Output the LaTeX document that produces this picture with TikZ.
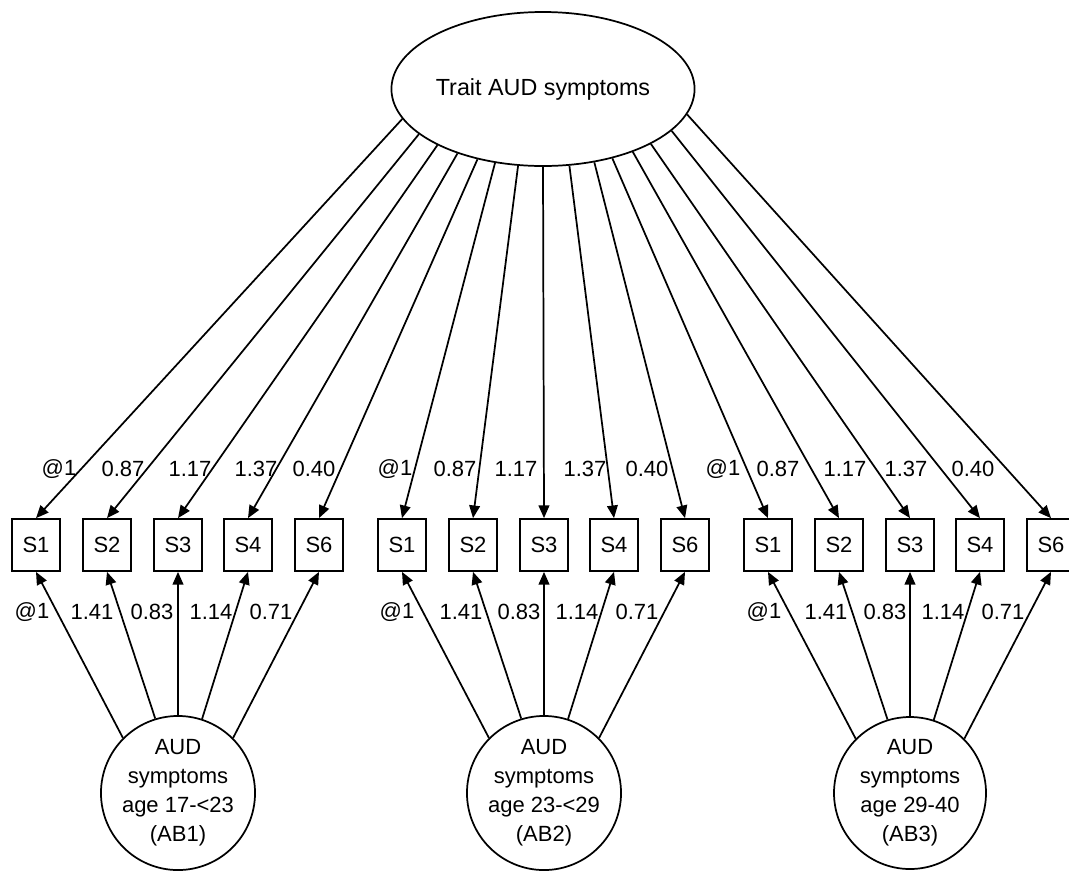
\documentclass[tikz,border=0pt]{standalone}
\usepackage{fontspec}
\setmainfont{Liberation Sans}
\usetikzlibrary{arrows.meta,shapes.geometric}
\begin{document}
\begin{tikzpicture}[x=0.75pt,y=-0.75pt,
  every node/.style={font=\fontsize{16.5}{21.75}\selectfont},
  ind/.style={draw,line width=1.3pt,minimum width=36pt,minimum height=39pt,inner sep=0pt},
  lat/.style={draw,circle,line width=1.3pt,minimum size=114pt,inner sep=0pt,align=center},
  arr/.style={line width=1.3pt,-{Triangle[length=9.5pt,width=8pt]}},
  lbl/.style={inner sep=0pt}]
\useasboundingbox (0,0) rectangle (1069,872);
\node[draw,ellipse,line width=1.3pt,minimum width=210pt,minimum height=115.5pt,inner sep=0pt,
  font=\fontsize{17.5}{21}\selectfont] (trait) at (543,89) {Trait AUD symptoms};
% indicator boxes
\foreach \g/\ox in {1/0,2/366,3/732}{
  \foreach \i/\dx/\t in {1/36/S1,2/107/S2,3/178/S3,4/248/S4,5/319/S6}{
    \node[ind] (b\g\i) at (\ox+\dx,545) {\t};
  }
}
% age-block latent factors
\node[lat] (c1) at (178,793) {AUD\\symptoms\\age 17-<23\\(AB1)};
\node[lat] (c2) at (544,793) {AUD\\symptoms\\age 23-<29\\(AB2)};
\node[lat] (c3) at (910,793) {AUD\\symptoms\\age 29-40\\(AB3)};
% trait loadings
\foreach \t/\target in {159.4/b11,147.5/b12,136.2/b13,126.4/b14,117.7/b15,
                        110.1/b21,100.3/b22,90/b23,79.3/b24,69.1/b25,
                        61.4/b31,52.6/b32,43.2/b33,31.8/b34,19.4/b35}{
  \pgfmathsetmacro\a{atan2(-77*sin(\t),140*cos(\t))}
  \draw[arr] (trait.\a) -- (\target.north);
}
% age-block loadings
\foreach \g in {1,2,3}{
  \foreach \i/\a in {1/135,2/107.5,3/90,4/72.5,5/45}{
    \draw[arr] (c\g.\a) -- (b\g\i.south);
  }
}
% top labels
\foreach \k/\x/\t in {1/59/@1,2/123/0.87,3/190/1.17,4/256/1.37,5/314/0.40,
                      6/395/@1,7/455/0.87,8/516/1.17,9/585/1.37,10/647/0.40,
                      11/723/@1,12/778/0.87,13/845/1.17,14/906/1.37,15/973/0.40}{
  \node[lbl] (tl\k) at (\x,469) {\t};
}
% bottom labels
\foreach \k/\x/\t in {1/32/@1,2/92/1.41,3/152/0.83,4/211/1.14,5/271/0.71,
                      6/397/@1,7/461/1.41,8/519/0.83,9/577/1.14,10/637/0.71,
                      11/764/@1,12/826/1.41,13/885/0.83,14/943/1.14,15/1003/0.71}{
  \node[lbl] (bl\k) at (\x,612) {\t};
}
\end{tikzpicture}
\end{document}
